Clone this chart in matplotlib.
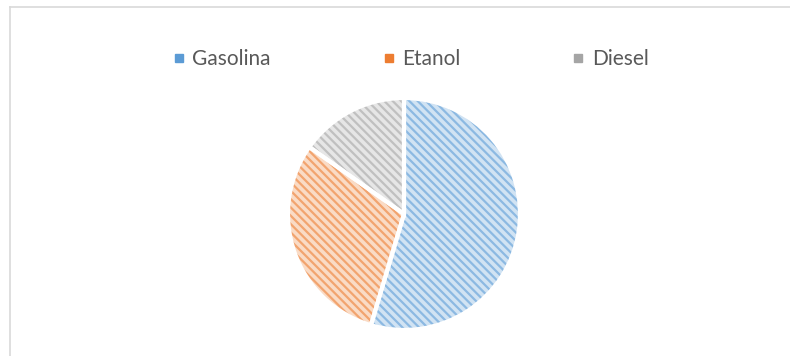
import matplotlib

matplotlib.use("Agg")
import matplotlib.pyplot as plt  # noqa: E402
from matplotlib.colors import to_rgb  # noqa: E402
from matplotlib.lines import Line2D  # noqa: E402

# Participação por combustível (em %)
labels = ["Gasolina", "Etanol", "Diesel"]
shares = [54.6, 30.2, 15.2]
colors = ["#5B9BD5", "#ED7D31", "#A5A5A5"]

plt.rcParams["font.family"] = ["Lato", "DejaVu Sans"]
plt.rcParams["hatch.linewidth"] = 1.6


def lighten(color: str, amount: float) -> tuple:
    r, g, b = to_rgb(color)
    return (r + (1 - r) * amount, g + (1 - g) * amount, b + (1 - b) * amount)


fig = plt.figure(figsize=(7.9, 3.56), dpi=100)

# moldura cinza do gráfico
W, H = 790, 356
fig.add_artist(Line2D([9.5 / W, 9.5 / W], [0, 1 - 6.5 / H], color="#D9D9D9", lw=1.2))
fig.add_artist(Line2D([9.5 / W, 1], [1 - 6.5 / H, 1 - 6.5 / H], color="#D9D9D9", lw=1.2))

ax = fig.add_axes([288 / W, 26 / H, 232 / W, 232 / H])
face = [lighten(c, 0.72) for c in colors]
stripe = [lighten(c, 0.3) for c in colors]

wedges, _ = ax.pie(shares, colors=face, startangle=90, counterclock=False,
                   radius=1.0, wedgeprops=dict(linewidth=0))
for w, sc in zip(wedges, stripe):
    w.set_hatch("\\\\\\\\")
    w.set_edgecolor(sc)
    w.set_linewidth(0)

# bordas brancas entre as fatias
ax.pie(shares, colors=["none"] * 3, startangle=90, counterclock=False,
       radius=1.0, wedgeprops=dict(linewidth=3, edgecolor="white"))
ax.set_xlim(-1, 1)
ax.set_ylim(-1, 1)
ax.axis("off")

handles = [Line2D([], [], marker="s", linestyle="none", markersize=6,
                  markerfacecolor=c, markeredgecolor=c) for c in colors]
fig.legend(handles, labels, loc="center", bbox_to_anchor=(410 / W, 1 - 59 / H),
           ncol=3, frameon=False, fontsize=15, labelcolor="#595959",
           columnspacing=5.3, handletextpad=0.3, handlelength=0.7)

fig.savefig("out.png", dpi=100)
